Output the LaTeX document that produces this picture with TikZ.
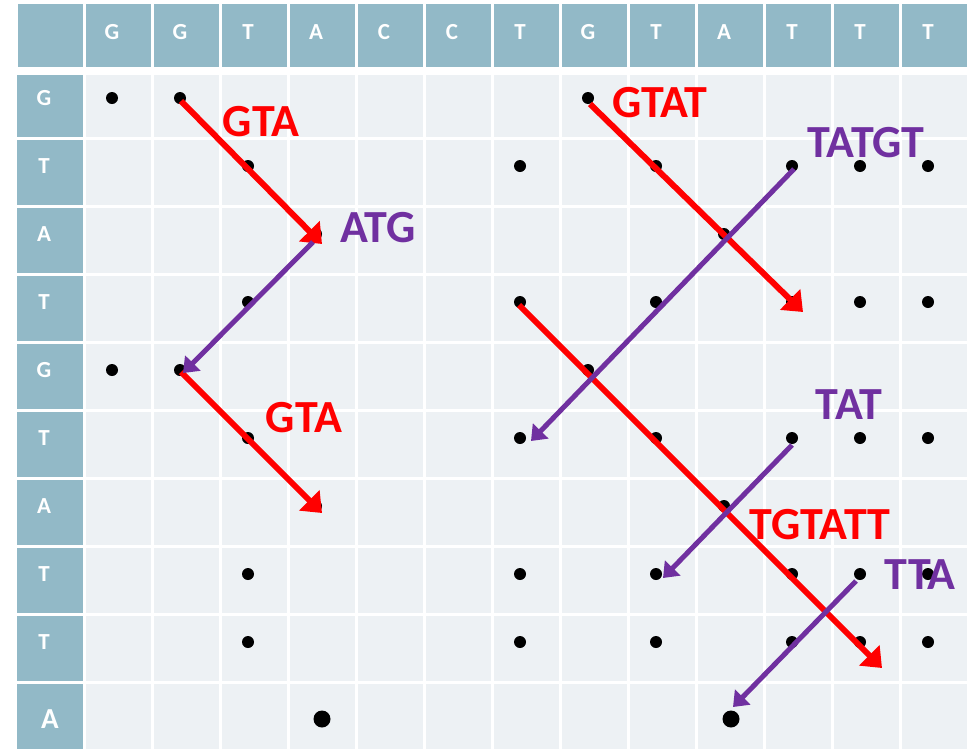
\documentclass[tikz,border=0pt]{standalone}
\usepackage{fontspec}
\setmainfont{Carlito}
\usetikzlibrary{arrows.meta}
\definecolor{hdrfill}{RGB}{146,185,199}
\definecolor{cellfill}{RGB}{237,241,244}
\definecolor{matchred}{RGB}{255,0,0}
\definecolor{matchpurple}{RGB}{112,48,160}
\tikzset{
  hdrtext/.style={text=white, inner sep=0pt, font=\fontsize{23}{23}\selectfont\bfseries},
  bigtext/.style={text=white, inner sep=0pt, font=\fontsize{29}{29}\selectfont\bfseries},
  matchdot/.style={circle, fill=black, minimum size=12pt, inner sep=0pt},
  bigdot/.style={circle, fill=black, minimum size=17pt, inner sep=0pt},
  redarrow/.style={draw=matchred, line width=6pt, -{Triangle[length=18pt,width=28pt]}},
  purplearrow/.style={draw=matchpurple, line width=5pt, -{Triangle[length=14pt,width=21pt]}},
  redlabel/.style={text=matchred, inner sep=0pt, font=\fontsize{46}{46}\selectfont\bfseries},
  purplelabel/.style={text=matchpurple, inner sep=0pt, font=\fontsize{46}{46}\selectfont\bfseries},
}
\begin{document}
\begin{tikzpicture}[x=1pt, y=-1pt]
  \useasboundingbox (0,0) rectangle (974,750);
  \fill[white] (0,0) rectangle (974,750);

  % header row
  \foreach \j in {0,...,13}
    \fill[hdrfill] ({18+68*\j},4) rectangle ({83+68*\j},67);
  % body rows
  \foreach \i in {1,...,10} {
    \pgfmathsetmacro\rtop{\i==1 ? 75 : 72+68*(\i-1)}
    \pgfmathsetmacro\rbot{min(137+68*(\i-1),750)}
    \fill[hdrfill] (17,\rtop) rectangle (83,\rbot);
    \foreach \j in {1,...,13}
      \fill[cellfill] ({18+68*\j},\rtop) rectangle ({83+68*\j},\rbot);
  }

  % column letters
  \foreach \c [count=\j] in {G,G,T,A,C,C,T,G,T,A,T,T,T}
    \node[hdrtext] (h-\j) at ({112+68*(\j-1)},32) {\c};
  % row letters
  \foreach \r [count=\i] in {G,T,A,T,G,T,A,T,T}
    \node[hdrtext] (r-\i) at (44,{98+68*(\i-1)}) {\r};
  \node[bigtext] (r-10) at (50,719) {A};

  % match dots
  \foreach \i in {1,5}
    \foreach \j in {1,2,8}
      \node[matchdot] (d-\i-\j) at ({112+68*(\j-1)},{98+68*(\i-1)}) {};
  \foreach \i in {2,4,6,8,9}
    \foreach \j in {3,7,9,11,12,13}
      \node[matchdot] (d-\i-\j) at ({112+68*(\j-1)},{98+68*(\i-1)}) {};
  \foreach \i in {3,7}
    \foreach \j in {4,10}
      \node[matchdot] (d-\i-\j) at ({112+68*(\j-1)},{98+68*(\i-1)}) {};
  \node[bigdot] (d-10-4) at (322,719) {};
  \node[bigdot] (d-10-10) at (731,719) {};

  % arrow ends
  \coordinate (ra-s) at (181,101);  \coordinate (ra-e) at (322,244);
  \coordinate (rb-s) at (181,372);  \coordinate (rb-e) at (322,513);
  \coordinate (rc-s) at (590,104);  \coordinate (rc-e) at (803,312);
  \coordinate (rd-s) at (519,305);  \coordinate (rd-e) at (882,668);
  \coordinate (pa-s) at (313,242);  \coordinate (pa-e) at (183,373);
  \coordinate (pb-s) at (794,169);  \coordinate (pb-e) at (531,441);
  \coordinate (pc-s) at (792,445);  \coordinate (pc-e) at (663,578);
  \coordinate (pd-s) at (856,581);  \coordinate (pd-e) at (733,707);

  % forward matches
  \draw[redarrow] (ra-s) -- (ra-e);
  \draw[redarrow] (rb-s) -- (rb-e);
  \draw[redarrow] (rc-s) -- (rc-e);
  \draw[redarrow] (rd-s) -- (rd-e);
  % reverse matches
  \draw[purplearrow] (pa-s) -- (pa-e);
  \draw[purplearrow] (pb-s) -- (pb-e);
  \draw[purplearrow] (pc-s) -- (pc-e);
  \draw[purplearrow] (pd-s) -- (pd-e);

  % labels
  \node[redlabel] (l-gta1) at (261,122) {GTA};
  \node[purplelabel] (l-atg) at (378,228) {ATG};
  \node[redlabel] (l-gta2) at (304,418) {GTA};
  \node[redlabel] (l-gtat) at (660,103) {GTAT};
  \node[purplelabel] (l-tatgt) at (866,143) {TATGT};
  \node[purplelabel] (l-tat) at (849,405) {TAT};
  \node[redlabel] (l-tgtatt) at (820,525) {TGTATT};
  \node[purplelabel] (l-tta) at (920,575) {TTA};
\end{tikzpicture}
\end{document}
